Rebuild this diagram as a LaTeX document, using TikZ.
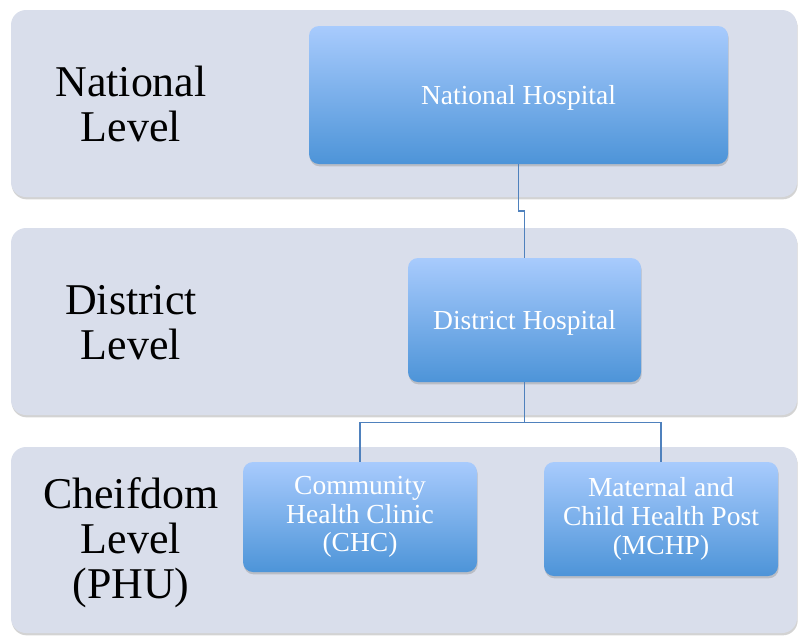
\documentclass[tikz,border=0pt]{standalone}
\usepackage{fontspec}
\setmainfont{Liberation Serif}
\usetikzlibrary{positioning, calc, shadows}
\definecolor{bandC}{RGB}{217, 222, 235}
\definecolor{boxTop}{RGB}{168, 203, 253}
\definecolor{boxBot}{RGB}{77, 148, 216}
\definecolor{linkC}{RGB}{79, 129, 189}

\begin{document}
\begin{tikzpicture}[x=0.3mm, y=-0.3mm,
    band/.style={fill=bandC, rounded corners=4.5mm,
        drop shadow={shadow xshift=0.6pt, shadow yshift=-2pt, opacity=0.35}},
    level/.style={font=\fontsize{37.5}{38.5}\selectfont, align=center},
    unit/.style={rounded corners=3mm, top color=boxTop, bottom color=boxBot,
        text=white, align=center, inner sep=0pt,
        font=\fontsize{23.5}{24.5}\selectfont,
        drop shadow={shadow xshift=0.6pt, shadow yshift=-2pt, opacity=0.35}},
    link/.style={linkC, line width=1.1pt}]
        % Page frame, 799 x 635 units (y runs downwards).
        \useasboundingbox (0, 0) rectangle (799, 635);

        % ── Level bands ──────────────────────────────────────────────
        \path[band] (11, 10) rectangle (797, 197);
        \path[band] (11, 228) rectangle (797, 415);
        \path[band] (11, 447) rectangle (797, 633);

        % ── Level names ──────────────────────────────────────────────
        \node[level] (natL) at (131, 104) {National\\Level};
        \node[level] (disL) at (131, 323) {District\\Level};
        \node[level] (chfL) at (131, 543) {Cheifdom\\Level\\(PHU)};

        % ── Facilities ───────────────────────────────────────────────
        \node[unit, text depth=0pt, minimum width=125.7mm, minimum height=41.4mm] (nh)
              at (518.5, 95) {National Hospital};
        \node[unit, text depth=0pt, minimum width=69.9mm, minimum height=37.2mm] (dh)
              at (524.5, 320) {District Hospital};
        \node[unit, minimum width=70.2mm, minimum height=33mm] (chc)
              at (360, 517) {Community\\Health Clinic\\(CHC)};
        \node[unit, minimum width=70.2mm, minimum height=34.2mm] (mchp)
              at (661, 519) {Maternal and\\Child Health Post\\(MCHP)};

        % ── Links ────────────────────────────────────────────────────
        \draw[link] (nh.south) |- ($(nh.south)!0.5!(dh.north)$) -| (dh.north);
        \coordinate (split) at ($(dh.south) + (0, 40)$);
        \draw[link] (dh.south) -- (split) -| (chc.north);
        \draw[link] (split) -| (mchp.north);
      \end{tikzpicture}
\end{document}
